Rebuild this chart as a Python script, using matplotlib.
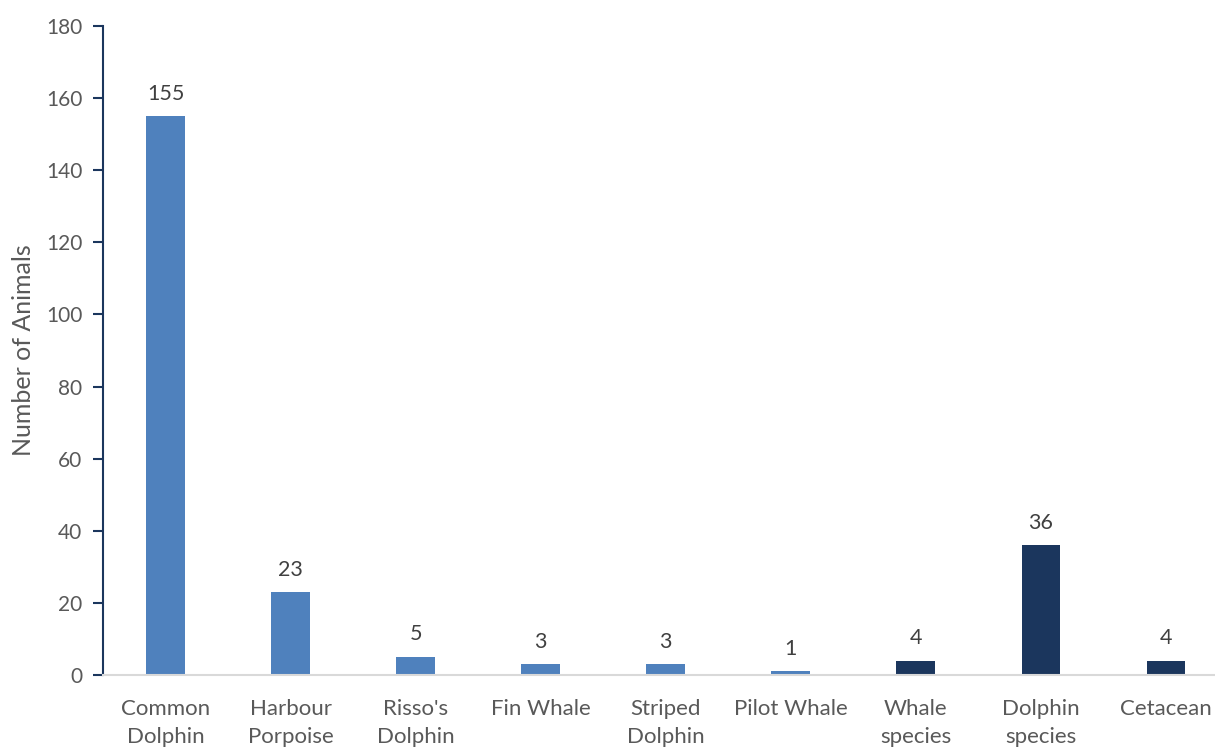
import matplotlib
matplotlib.use("Agg")
import matplotlib.pyplot as plt

categories = ["Common\nDolphin", "Harbour\nPorpoise", "Risso's\nDolphin", "Fin Whale",
              "Striped\nDolphin", "Pilot Whale", "Whale\nspecies", "Dolphin\nspecies", "Cetacean"]
values = [155, 23, 5, 3, 3, 1, 4, 36, 4]
colors = ["#4F81BD"] * 6 + ["#1B365D"] * 3
yticks = [0, 20, 40, 60, 80, 100, 120, 140, 160, 180]

plt.rcParams['font.family'] = ['Lato', 'DejaVu Sans']
W, H = 1215, 747
fig = plt.figure(figsize=(W / 100, H / 100), dpi=100)
ax = fig.add_axes([103 / W, 72 / H, (1228.5 - 103) / W, (675 - 26) / H])

x = list(range(len(categories)))
bars = ax.bar(x, values, width=0.31, color=colors, zorder=2)
for xi, v in zip(x, values):
    ax.annotate(str(v), (xi, v), xytext=(0, 9), textcoords="offset points",
                ha="center", va="bottom", fontsize=15.5, color="#404040")

ax.set_xlim(-0.5, len(categories) - 0.5)
ax.set_ylim(0, 180)
ax.set_yticks(yticks)
ax.set_xticks(x)
ax.set_xticklabels(categories, fontsize=16, color="#595959", linespacing=1.5)
ax.tick_params(axis="y", labelsize=15, labelcolor="#595959", color="#1B365D",
               direction="out", length=7, width=1.5, pad=8)
ax.tick_params(axis="x", length=0, pad=17)
for s in ["top", "right"]:
    ax.spines[s].set_visible(False)
ax.spines["left"].set_color("#1B365D")
ax.spines["left"].set_linewidth(1.5)
ax.spines["bottom"].set_color("#D9D9D9")
ax.spines["bottom"].set_linewidth(1.5)
ax.set_ylabel("Number of Animals", fontsize=18, color="#595959", labelpad=8)

fig.savefig("out.png", dpi=100)
